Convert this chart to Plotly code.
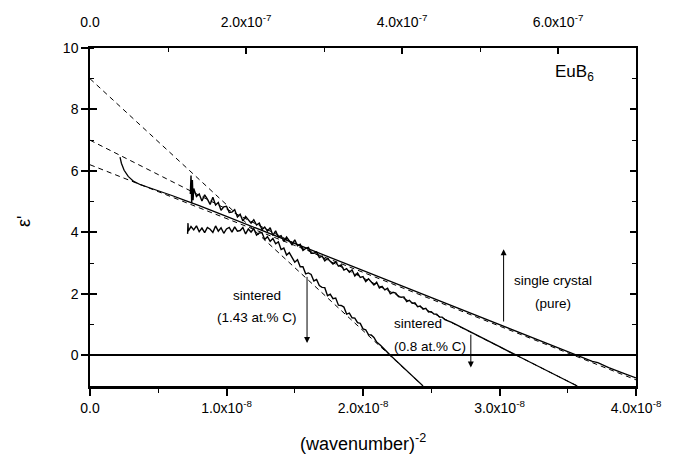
import plotly.graph_objects as go

E8 = 1e-8
# ---------------- data (x in units of 1e-8, y = eps') ----------------
pure_x = [0.22, 0.23, 0.25, 0.28, 0.32, 0.37, 0.43, 0.50, 0.60, 0.70, 0.80, 1.0, 1.5, 2.0, 2.5, 3.0, 3.5, 3.6, 3.68, 3.72, 3.8, 3.9, 4.0]
pure_y = [6.45, 6.25, 6.02, 5.82, 5.66, 5.55, 5.46, 5.36, 5.20, 5.03, 4.87, 4.52, 3.64, 2.76, 1.88, 1.00, 0.12, -0.05, -0.20, -0.24, -0.40, -0.57, -0.74]

s08_x = [0.735, 0.74, 0.745, 0.75, 0.755,
         0.76, 0.78, 0.80, 0.82, 0.84, 0.86, 0.88, 0.90, 0.92, 0.94, 0.96, 0.98, 1.00, 1.02, 1.04, 1.06, 1.08, 1.10,
         1.12, 1.14, 1.16, 1.18, 1.20, 1.22, 1.24, 1.26, 1.28, 1.30, 1.32, 1.34, 1.36, 1.38, 1.40, 1.42, 1.44, 1.46,
         1.48, 1.50, 1.52, 1.54, 1.56, 1.58, 1.60, 1.62, 1.64, 1.66, 1.68, 1.70, 1.72, 1.74, 1.76, 1.78, 1.80, 1.82,
         1.84, 1.86, 1.88, 1.90, 1.92, 1.94, 1.96, 1.98, 2.00, 2.02, 2.04, 2.06, 2.08, 2.10, 2.12, 2.14, 2.16, 2.18,
         2.20, 2.22, 2.24, 2.26, 2.28, 2.30, 2.32, 2.34, 2.36, 2.38, 2.40, 2.42, 2.44, 2.46, 2.48, 2.50, 2.52, 2.54,
         2.56, 2.58, 2.60, 2.65, 2.70, 2.75, 2.80, 2.85, 2.90, 2.95, 3.00, 3.06, 3.12]
s08_y = [5.25, 5.85, 4.95, 5.70, 5.05,
         5.43, 5.17, 5.25, 5.02, 5.22, 5.08, 4.91, 5.14, 4.89, 4.97, 4.72, 4.83, 4.85, 4.65, 4.66, 4.74, 4.50, 4.59,
         4.37, 4.52, 4.40, 4.30, 4.41, 4.24, 4.30, 4.09, 4.17, 4.04, 4.15, 3.90, 4.05, 3.85, 3.89, 3.71, 3.85, 3.74,
         3.60, 3.76, 3.56, 3.61, 3.41, 3.48, 3.51, 3.32, 3.32, 3.36, 3.18, 3.23, 3.07, 3.15, 3.06, 2.97, 3.04, 2.90,
         2.94, 2.77, 2.82, 2.70, 2.78, 2.58, 2.68, 2.53, 2.56, 2.40, 2.49, 2.39, 2.29, 2.38, 2.19, 2.24, 2.13, 2.18,
         2.00, 2.05, 2.02, 1.91, 1.89, 1.90, 1.75, 1.79, 1.69, 1.71, 1.58, 1.60, 1.50, 1.53, 1.41, 1.42, 1.34, 1.34,
         1.24, 1.24, 1.16, 1.07, 0.96, 0.84, 0.73, 0.61, 0.50, 0.39, 0.28, 0.14, 0.01]

s143_x = [0.715, 0.718,
          0.72, 0.74, 0.76, 0.78, 0.80, 0.82, 0.84, 0.86, 0.88, 0.90, 0.92, 0.94, 0.96, 0.98, 1.00, 1.02, 1.04, 1.06,
          1.08, 1.10, 1.12, 1.14, 1.16, 1.18, 1.20, 1.22, 1.24, 1.26, 1.28, 1.30, 1.32, 1.34, 1.36, 1.38, 1.40, 1.42,
          1.44, 1.46, 1.48, 1.50, 1.52, 1.54, 1.56, 1.58, 1.60, 1.62, 1.64, 1.66, 1.68, 1.70, 1.72, 1.74, 1.76, 1.78,
          1.80, 1.82, 1.84, 1.86, 1.88, 1.90, 1.92, 1.94, 1.96, 1.98, 2.00, 2.02, 2.04, 2.06, 2.08, 2.10, 2.13, 2.16, 2.20]
s143_y = [3.95, 4.30,
          4.04, 4.19, 4.08, 4.21, 4.02, 4.14, 3.99, 4.16, 4.10, 4.00, 4.21, 4.04, 4.15, 3.97, 4.11, 4.16, 4.01, 4.18,
          4.04, 4.06, 4.16, 3.95, 4.11, 4.01, 4.12, 3.91, 3.98, 3.99, 3.77, 3.86, 3.71, 3.80, 3.63, 3.69, 3.44, 3.49,
          3.26, 3.34, 3.19, 3.03, 3.11, 2.88, 2.88, 2.65, 2.68, 2.63, 2.42, 2.47, 2.27, 2.21, 2.20, 1.94, 1.99, 1.84,
          1.86, 1.63, 1.62, 1.57, 1.34, 1.37, 1.22, 1.21, 1.06, 1.04, 0.86, 0.83, 0.67, 0.66, 0.58, 0.43, 0.32, 0.19, 0.00]

# solid fit extensions below zero
ext08_x = [3.12, 3.57]
ext08_y = [0.01, -1.0]
ext143_x = [2.20, 2.44]
ext143_y = [0.00, -1.0]

# dashed extrapolation lines
fit_pure_x = [0.0, 4.0]
fit_pure_y = [6.2, -0.8]
fit_08_x = [0.0, 3.57]
fit_08_y = [7.0, -1.0]
fit_143_x = [0.0, 2.44]
fit_143_y = [9.0, -1.0]

xticks = [0, 1, 2, 3, 4]
xticktext = ["0.0", "1.0x10<sup>-8</sup>", "2.0x10<sup>-8</sup>", "3.0x10<sup>-8</sup>", "4.0x10<sup>-8</sup>"]
topticks = [0, 2e-7, 4e-7, 6e-7]
toptext = ["0.0", "2.0x10<sup>-7</sup>", "4.0x10<sup>-7</sup>", "6.0x10<sup>-7</sup>"]
yticks = [0, 2, 4, 6, 8, 10]

FONT = "Liberation Sans, Arial, sans-serif"

def sx(v):
    return [a * E8 for a in v]

fig = go.Figure()
for fx, fy in [(fit_pure_x, fit_pure_y), (fit_08_x, fit_08_y), (fit_143_x, fit_143_y)]:
    fig.add_trace(go.Scatter(x=sx(fx), y=fy, mode="lines",
                             line=dict(color="black", width=1, dash="5px,4px"), showlegend=False))
for dx, dy, w in [(pure_x, pure_y, 1.3), (s08_x, s08_y, 1.4), (s143_x, s143_y, 1.4),
                  (ext08_x, ext08_y, 1.2), (ext143_x, ext143_y, 1.2)]:
    fig.add_trace(go.Scatter(x=sx(dx), y=dy, mode="lines",
                             line=dict(color="black", width=w), showlegend=False))
# dummy traces to activate overlay axes
fig.add_trace(go.Scatter(x=[None], y=[None], xaxis="x2", yaxis="y", showlegend=False))
fig.add_trace(go.Scatter(x=[None], y=[None], xaxis="x", yaxis="y2", showlegend=False))
fig.add_trace(go.Scatter(x=[None], y=[None], xaxis="x", yaxis="y3", showlegend=False))

fig.update_layout(
    width=684, height=463,
    margin=dict(l=90, r=48, t=46, b=77),
    plot_bgcolor="white", paper_bgcolor="white",
    font=dict(family=FONT, size=14, color="black"),
    showlegend=False,
    xaxis=dict(range=[0, 4 * E8], tickvals=sx(xticks), ticktext=xticktext,
               ticks="outside", ticklen=7, tickwidth=1.5, tickcolor="black",
               minor=dict(ticks="outside", ticklen=4, tickwidth=1.2, dtick=0.5 * E8, tick0=0, tickcolor="black"),
               showline=True, linewidth=2.5, linecolor="black", showgrid=False, zeroline=False,
               tickfont=dict(size=14)),
    xaxis2=dict(range=[0, 7.0e-7], overlaying="x", side="top", anchor="y",
                tickvals=topticks, ticktext=toptext,
                ticks="inside", ticklen=6, tickwidth=1.5, tickcolor="black",
                minor=dict(ticks="inside", ticklen=4, tickwidth=1.2, dtick=1e-7, tick0=0, tickcolor="black"),
                showline=True, linewidth=1.5, linecolor="black", showgrid=False, zeroline=False,
                ticklabelstandoff=14, tickfont=dict(size=14)),
    yaxis=dict(range=[-1, 10], tickvals=yticks,
               ticks="outside", ticklen=7, tickwidth=1.5, tickcolor="black",
               minor=dict(ticks="inside", ticklen=4, tickwidth=1.2, dtick=1, tick0=0, tickcolor="black"),
               showline=True, linewidth=1.5, linecolor="black", showgrid=False,
               zeroline=True, zerolinecolor="black", zerolinewidth=1.5,
               tickfont=dict(size=14)),
    yaxis2=dict(range=[-1, 10], overlaying="y", side="left", anchor="x", tickvals=yticks,
                ticks="inside", ticklen=7, tickwidth=1.5, tickcolor="black",
                showticklabels=False, showline=False, showgrid=False, zeroline=False),
    yaxis3=dict(range=[-1, 10], overlaying="y", side="right", anchor="x", tickvals=yticks,
                ticks="inside", ticklen=6, tickwidth=1.5, tickcolor="black",
                minor=dict(ticks="inside", ticklen=4, tickwidth=1.2, dtick=1, tick0=0, tickcolor="black"),
                showticklabels=False, showline=True, linewidth=1.5, linecolor="black",
                showgrid=False, zeroline=False),
)

ann = []
ann.append(dict(text="EuB<sub>6</sub>", x=3.55 * E8, y=9.2, xref="x", yref="y", showarrow=False,
                font=dict(size=17)))
ann.append(dict(text="single crystal", x=3.39 * E8, y=2.43, xref="x", yref="y", showarrow=False, font=dict(size=13.5)))
ann.append(dict(text="(pure)", x=3.39 * E8, y=1.68, xref="x", yref="y", showarrow=False, font=dict(size=13.5)))
ann.append(dict(text="sintered", x=2.4 * E8, y=1.04, xref="x", yref="y", showarrow=False, font=dict(size=13.5)))
ann.append(dict(text="(0.8 at.% C)", x=2.49 * E8, y=0.29, xref="x", yref="y", showarrow=False, font=dict(size=13.5)))
ann.append(dict(text="sintered", x=1.22 * E8, y=1.94, xref="x", yref="y", showarrow=False, font=dict(size=13.5)))
ann.append(dict(text="(1.43 at.% C)", x=1.22 * E8, y=1.23, xref="x", yref="y", showarrow=False, font=dict(size=13.5)))
# arrows
for x0, y0, y1 in [(3.03, 1.05, 3.45), (2.79, 0.72, -0.40), (1.59, 2.6, 0.40)]:
    ann.append(dict(x=x0 * E8, y=y1, ax=x0 * E8, ay=y0, xref="x", yref="y", axref="x", ayref="y",
                    text="", showarrow=True, arrowhead=2, arrowsize=1.2, arrowwidth=1, arrowcolor="black"))
# axis titles
ann.append(dict(text="(wavenumber)<sup>-2</sup>", x=0.5, y=(386 - 443) / 340, xref="paper", yref="paper",
                yanchor="middle", showarrow=False, font=dict(size=18)))
ann.append(dict(text="ε'", x=(24 - 90) / 546, y=(386 - 221) / 340, xref="paper", yref="paper",
                xanchor="center", yanchor="middle",
                showarrow=False, textangle=-90, font=dict(size=18)))
fig.update_layout(annotations=ann)

fig.write_html("out.html")
